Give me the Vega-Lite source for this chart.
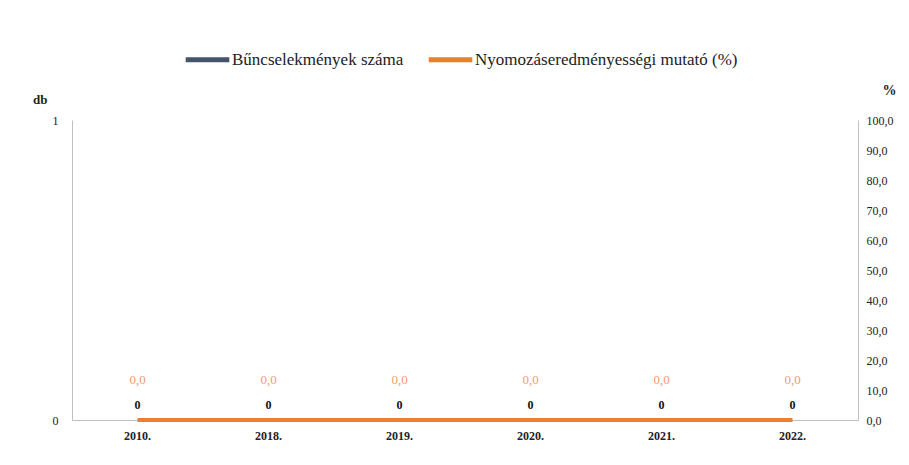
{
  "$schema": "https://vega.github.io/schema/vega-lite/v6.json",
  "width": 786,
  "height": 300,
  "autosize": "none",
  "padding": {"left": 72, "top": 120, "right": 51, "bottom": 45},
  "background": "white",
  "config": {
    "locale": {"number": {"decimal": ",", "thousands": " ", "grouping": [3], "currency": ["", ""]}},
    "view": {"stroke": null},
    "font": "Liberation Serif",
    "text": {"font": "Liberation Serif"},
    "legend": {"labelFont": "Liberation Serif"},
    "axis": {"labelFont": "Liberation Serif", "titleFont": "Liberation Serif", "grid": false, "domainColor": "#BFBFBF", "ticks": false, "labelColor": "#222222", "titleColor": "#222222"}
  },
  "data": {
    "values": [
      {"ev": "2010.", "db": 0, "pct": 0},
      {"ev": "2018.", "db": 0, "pct": 0},
      {"ev": "2019.", "db": 0, "pct": 0},
      {"ev": "2020.", "db": 0, "pct": 0},
      {"ev": "2021.", "db": 0, "pct": 0},
      {"ev": "2022.", "db": 0, "pct": 0}
    ]
  },
  "encoding": {
    "x": {
      "field": "ev", "type": "nominal", "sort": null,
      "scale": {"paddingInner": 0.5, "paddingOuter": 0.25},
      "axis": {"title": null, "labelAngle": 0, "labelFontWeight": "bold", "labelFontSize": 12, "labelPadding": 10, "domainColor": "#BFBFBF"}
    }
  },
  "layer": [
    {
      "encoding": {
        "y": {"field": "db", "type": "quantitative", "scale": {"domain": [0, 1]},
          "axis": {"values": [0, 1], "format": "d", "title": "db", "titleAngle": 0, "titleAnchor": "end", "titleX": -25, "titleY": -14, "titleFontSize": 13, "titleFontWeight": "bold", "labelFontSize": 12, "labelPadding": 14}}
      },
      "layer": [
        {
          "mark": {"type": "bar", "color": "#44546A"},
          "encoding": {
            "color": {"datum": "Bűncselekmények száma", "type": "nominal",
              "scale": {"domain": ["Bűncselekmények száma", "Nyomozáseredményességi mutató (%)"], "range": ["#44546A", "#ED7D31"]},
              "legend": {"title": null, "orient": "none", "legendX": 111, "legendY": -85, "direction": "horizontal", "symbolType": "stroke", "symbolStrokeWidth": 5, "symbolSize": 1900, "labelFont": "Liberation Serif", "labelFontSize": 17, "labelColor": "#222222", "labelLimit": 0, "columnPadding": 14, "labelOffset": 0}}
          }
        },
        {
          "mark": {"type": "text", "dy": -15, "fontSize": 12, "fontWeight": "bold", "color": "#111111", "font": "Liberation Serif"},
          "encoding": {
            "text": {"field": "db", "type": "quantitative", "format": "d"}
          }
        }
      ]
    },
    {
      "encoding": {
        "x": {"field": "ev", "type": "nominal", "sort": null, "bandPosition": 0.5},
        "y": {"field": "pct", "type": "quantitative", "scale": {"domain": [0, 100]},
          "axis": {"orient": "right", "values": [0, 10, 20, 30, 40, 50, 60, 70, 80, 90, 100], "format": ".1f", "labelOverlap": false, "title": "%", "titleAngle": 0, "titleAnchor": "end", "titleX": 38, "titleY": -23, "titleFontSize": 14, "titleFontWeight": "bold", "labelFontSize": 12, "labelPadding": 8}}
      },
      "layer": [
        {
          "mark": {"type": "line", "color": "#ED7D31", "strokeWidth": 4},
          "encoding": {
            "color": {"datum": "Nyomozáseredményességi mutató (%)", "type": "nominal"}
          }
        },
        {
          "mark": {"type": "text", "dy": -40, "fontSize": 13, "color": "#F29A74", "font": "Liberation Serif"},
          "encoding": {
            "text": {"field": "pct", "type": "quantitative", "format": ".1f"}
          }
        }
      ]
    }
  ],
  "resolve": {"scale": {"y": "independent"}}
}
